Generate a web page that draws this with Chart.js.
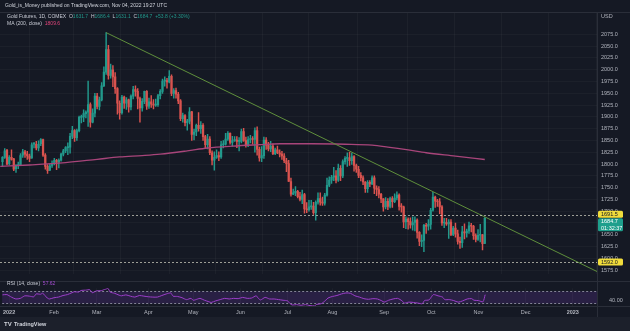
<!DOCTYPE html>
<html>
<head>
<meta charset="utf-8">
<script src="https://cdn.jsdelivr.net/npm/chart.js@4.4.0/dist/chart.umd.min.js"></script>
<style>
  html, body { margin: 0; padding: 0; background: #151924; }
  #wrap { position: relative; width: 630px; height: 331px; overflow: hidden; }
  #priceBox { position: absolute; left: 0; top: 0; width: 630px; height: 281px; }
  #rsiBox { position: absolute; left: 0; top: 281px; width: 630px; height: 50px; }
</style>
</head>
<body>
<div id="wrap">
  <div id="priceBox"><canvas id="priceChart"></canvas></div>
  <div id="rsiBox"><canvas id="rsiChart"></canvas></div>
</div>
<script>
// daily bars, first one is Dec 30 2021 (bar index 0 = Jan 3 2022)
const firstBar = -2;

const opens = [
  1805, 1814,
  1829, 1801, 1814, 1811, 1790, 1797, 1798, 1819, 1826, 1821, 1817, 1813, 1842, 1842, 1834, 1843, 1852, 1819, 1795, 1787,
  1797, 1801, 1808, 1804, 1808, 1821, 1828, 1835, 1836, 1859, 1871, 1856, 1871, 1899, 1900, 1907, 1910, 1926, 1889,
  1908, 1944, 1922, 1936, 1966, 1995, 2043, 1988, 2000, 1985, 1960, 1929, 1909, 1942, 1929, 1936, 1921, 1944, 1958, 1954, 1939, 1919, 1933,
  1954, 1923, 1932, 1927, 1925, 1926, 1945, 1954, 1976, 1977, 1974, 1986, 1950, 1956, 1948, 1934, 1896, 1903, 1888, 1891,
  1911, 1863, 1868, 1882, 1875, 1882, 1858, 1841, 1853, 1824, 1808, 1814, 1818, 1815, 1841, 1842, 1853, 1865, 1846, 1850, 1851,
  1848, 1848, 1869, 1850, 1841, 1852, 1853, 1852, 1871, 1831, 1813, 1818, 1851, 1840, 1832, 1838, 1822, 1830, 1824, 1821, 1817,
  1807, 1801, 1763, 1736, 1739, 1742, 1731, 1725, 1735, 1705, 1703, 1709, 1711, 1697, 1719, 1727, 1719, 1717, 1734, 1755,
  1766, 1772, 1775, 1766, 1791, 1775, 1805, 1812, 1813, 1807, 1816, 1797, 1789, 1776, 1771, 1762, 1748, 1761, 1758, 1771, 1749, 1746, 1736,
  1726, 1709, 1721, 1710, 1727, 1720, 1728, 1734, 1710, 1709, 1677, 1683, 1678, 1671, 1676, 1681, 1655, 1636, 1638, 1670, 1668,
  1672, 1702, 1730, 1721, 1720, 1709, 1675, 1676, 1673, 1677, 1650, 1664, 1652, 1636, 1633, 1656, 1654, 1658, 1669, 1668, 1648,
  1640, 1649, 1650, 1631.7
];
const highs = [
  1816, 1833,
  1831, 1818, 1830, 1812, 1799, 1804, 1822, 1831, 1829, 1827, 1821, 1845, 1846, 1848, 1849, 1854, 1853, 1822, 1799, 1800,
  1807, 1812, 1810, 1811, 1823, 1831, 1837, 1845, 1865, 1880, 1873, 1874, 1902, 1904, 1915, 1913, 1976, 1930, 1917,
  1950, 1950, 1942, 1973, 2006, 2078.8, 2052, 2012, 2009, 1994, 1962, 1934, 1946, 1944, 1941, 1938, 1947, 1965, 1966, 1960, 1942, 1939, 1955,
  1956, 1940, 1945, 1937, 1938, 1948, 1958, 1980, 1985, 1982, 1998, 1989, 1960, 1961, 1952, 1937, 1908, 1905, 1895, 1920,
  1912, 1874, 1885, 1909, 1890, 1886, 1861, 1863, 1858, 1828, 1826, 1830, 1826, 1848, 1850, 1865, 1869, 1866, 1859, 1858, 1858,
  1856, 1874, 1876, 1857, 1858, 1861, 1858, 1877, 1879, 1836, 1837, 1857, 1856, 1846, 1848, 1843, 1834, 1838, 1830, 1827, 1822,
  1812, 1808, 1770, 1747, 1752, 1744, 1740, 1745, 1738, 1718, 1723, 1723, 1719, 1722, 1739, 1739, 1730, 1738, 1770, 1773,
  1776, 1793, 1786, 1800, 1797, 1809, 1816, 1824, 1825, 1823, 1818, 1800, 1795, 1782, 1775, 1763, 1765, 1765, 1775, 1775, 1754, 1752, 1738,
  1727, 1729, 1727, 1730, 1731, 1737, 1741, 1737, 1716, 1711, 1688, 1686, 1686, 1688, 1688, 1684, 1657, 1650, 1672, 1674, 1682,
  1706, 1740, 1732, 1725, 1727, 1712, 1685, 1685, 1682, 1682, 1668, 1675, 1660, 1645, 1668, 1673, 1662, 1677, 1674, 1670, 1652,
  1661, 1672, 1651, 1686.4
];
const lows = [
  1795, 1812,
  1798, 1798, 1808, 1786, 1782, 1790, 1797, 1814, 1814, 1810, 1805, 1812, 1834, 1830, 1828, 1839, 1816, 1789, 1780, 1786,
  1793, 1798, 1788, 1792, 1806, 1817, 1824, 1820, 1823, 1854, 1848, 1850, 1868, 1887, 1890, 1898, 1880, 1878, 1887,
  1900, 1917, 1915, 1934, 1964, 1990, 1980, 1982, 1964, 1950, 1906, 1895, 1906, 1918, 1916, 1910, 1915, 1938, 1944, 1917, 1889, 1912, 1928,
  1916, 1918, 1920, 1917, 1922, 1922, 1938, 1950, 1965, 1961, 1972, 1945, 1940, 1940, 1928, 1892, 1889, 1881, 1872, 1885,
  1850, 1851, 1860, 1870, 1865, 1850, 1835, 1832, 1820, 1798, 1787, 1812, 1807, 1812, 1834, 1840, 1850, 1842, 1838, 1848, 1835,
  1828, 1845, 1848, 1836, 1837, 1845, 1842, 1825, 1819, 1806, 1805, 1812, 1831, 1828, 1826, 1820, 1820, 1822, 1815, 1810, 1803,
  1784, 1763, 1732, 1735, 1733, 1728, 1722, 1716, 1696, 1697, 1700, 1704, 1693, 1681, 1715, 1713, 1712, 1713, 1732, 1752,
  1759, 1765, 1760, 1763, 1765, 1771, 1800, 1795, 1797, 1799, 1785, 1782, 1771, 1764, 1756, 1740, 1740, 1752, 1756, 1737, 1733, 1728, 1718,
  1700, 1705, 1703, 1707, 1708, 1718, 1724, 1702, 1698, 1665, 1663, 1662, 1664, 1660, 1658, 1643, 1627, 1625, 1614, 1653, 1660,
  1662, 1700, 1708, 1710, 1695, 1670, 1665, 1670, 1642, 1648, 1648, 1645, 1630, 1621, 1623, 1641, 1645, 1653, 1656, 1640, 1635,
  1638, 1635, 1618, 1631.1
];
const closes = [
  1814, 1828,
  1800, 1814, 1810, 1789, 1797, 1798, 1818, 1826, 1821, 1817, 1812, 1841, 1842, 1834, 1842, 1852, 1819, 1795, 1786, 1796,
  1801, 1808, 1804, 1808, 1821, 1828, 1835, 1836, 1859, 1871, 1856, 1871, 1899, 1900, 1907, 1910, 1926, 1889, 1908,
  1944, 1922, 1936, 1966, 1995, 2043, 1988, 2000, 1985, 1960, 1929, 1909, 1942, 1929, 1936, 1921, 1944, 1958, 1954, 1939, 1919, 1933, 1954,
  1923, 1932, 1927, 1925, 1926, 1945, 1954, 1976, 1977, 1974, 1986, 1950, 1956, 1948, 1934, 1896, 1903, 1888, 1891, 1911,
  1863, 1868, 1882, 1875, 1882, 1858, 1841, 1853, 1824, 1808, 1814, 1818, 1815, 1841, 1842, 1853, 1865, 1846, 1850, 1851, 1848,
  1848, 1869, 1850, 1841, 1852, 1853, 1852, 1871, 1831, 1813, 1818, 1851, 1840, 1832, 1838, 1822, 1830, 1824, 1821, 1817, 1807,
  1801, 1763, 1736, 1739, 1742, 1731, 1725, 1735, 1705, 1703, 1709, 1711, 1697, 1719, 1727, 1719, 1717, 1734, 1755, 1766,
  1772, 1775, 1766, 1791, 1775, 1805, 1812, 1813, 1807, 1816, 1797, 1789, 1776, 1771, 1762, 1748, 1761, 1758, 1771, 1749, 1746, 1736, 1726,
  1709, 1721, 1710, 1727, 1720, 1728, 1734, 1710, 1709, 1677, 1683, 1678, 1671, 1676, 1681, 1655, 1636, 1638, 1670, 1668, 1672,
  1702, 1730, 1721, 1720, 1709, 1675, 1676, 1673, 1677, 1650, 1664, 1652, 1636, 1633, 1656, 1654, 1658, 1669, 1668, 1648, 1640,
  1649, 1650, 1630.9, 1684.7
];

// time axis: bar index of each month label
const monthTickIdx = [0, 20, 39, 62, 82, 103, 124, 144, 167, 188, 209, 230, 251];
const monthTickLabels = ["2022", "Feb", "Mar", "Apr", "May", "Jun", "Jul", "Aug", "Sep", "Oct", "Nov", "Dec", "2023"];

// MA (200, close)
const maIdx = [-3, 10, 26, 40, 50, 60, 68, 80, 89, 100, 112, 121, 135, 150, 162, 169, 178, 186, 199, 212];
const maVals = [1795, 1798, 1803, 1810, 1815, 1818, 1821, 1828, 1834, 1838, 1841, 1843, 1843, 1842, 1840, 1836, 1830, 1824, 1817, 1809.6];

// RSI (14, close)
const rsiIdx = [-3, -1, 1, 3, 5, 7, 9, 11, 12, 14, 15, 17, 18, 20, 22, 24, 26, 28, 29, 31, 32, 34, 36, 37, 39, 41, 42, 43, 44, 45,
  47, 49, 50, 52, 54, 56, 58, 60, 62, 64, 66, 68, 70, 72, 73, 75, 77, 79, 81, 82, 84, 85, 87, 89, 90, 92, 94, 96, 98, 100,
  102, 104, 106, 108, 110, 111, 112, 114, 116, 118, 120, 122, 124, 125, 126, 128, 130, 132, 134, 136, 137, 139, 141, 142, 144, 146, 148, 150,
  152, 154, 156, 158, 160, 162, 164, 166, 167, 169, 171, 173, 175, 176, 178, 180, 182, 184, 185, 187, 188, 189, 191, 193, 194, 196,
  198, 200, 202, 204, 206, 207, 209, 211, 212];
const rsiVals = [57, 58, 50, 44, 46, 54, 53, 51, 60, 59, 62, 47, 44, 48, 50, 55, 58, 64, 67, 66, 71, 72, 73, 64, 70, 70, 73, 75, 78, 66,
  62, 56, 54, 57, 53, 50, 55, 53, 51, 50, 50, 55, 60, 63, 53, 52, 48, 42, 46, 40, 44, 46, 40, 35, 33, 38, 42, 46, 44, 46,
  45, 49, 46, 47, 54, 46, 41, 49, 44, 44, 42, 40, 38, 30, 25, 26, 24, 26, 23, 22, 27, 29, 40, 47, 52, 55, 60, 63,
  62, 54, 50, 45, 43, 45, 44, 38, 34, 40, 44, 46, 38, 31, 34, 33, 31, 29, 39, 41, 50, 58, 54, 50, 42, 42,
  39, 34, 38, 44, 45, 40, 39, 35, 57.62];

// drawn trend line (Mar 8 high towards the right edge) and horizontal levels
const trendIdx = [44, 262];
const trendVals = [2078.8, 1571.6];
const levelLines = [1691.5, 1592.0];

const UP = "#22998c";
const DOWN = "#d9534f";
const TXT = "#c9ccd6";
const AXIS_TXT = "#b2b5be";
const LINE = "#2a2e39";
const X_MIN = -3.1, X_MAX = 261.8;

Chart.defaults.font.family = "'Liberation Sans', Arial, sans-serif";
Chart.defaults.color = AXIS_TXT;

const candleColor = (c) => (closes[c.dataIndex] >= opens[c.dataIndex] ? UP : DOWN);
const wickData = opens.map((o, i) => ({ x: firstBar + i, y: [lows[i], highs[i]] }));
const bodyData = opens.map((o, i) => ({ x: firstBar + i, y: [o, closes[i]] }));

function drawRuns(ctx, x, y, runs) {
  runs.forEach(([t, c]) => {
    ctx.fillStyle = c;
    ctx.fillText(t, x, y);
    x += ctx.measureText(t).width;
  });
}

function badge(ctx, x, yTop, h, bg, fg, lines) {
  ctx.fillStyle = bg;
  ctx.beginPath();
  ctx.roundRect(x, yTop, 25, h, 1.5);
  ctx.fill();
  ctx.fillStyle = fg;
  ctx.font = "5.5px 'Liberation Sans', Arial, sans-serif";
  ctx.textBaseline = "middle";
  ctx.textAlign = "left";
  const step = h / lines.length;
  lines.forEach((t, k) => ctx.fillText(t, x + 3, yTop + step * (k + 0.5) + 0.3));
}

const monthGrid = {
  type: "linear",
  min: X_MIN,
  max: X_MAX,
  offset: false,
  afterBuildTicks: (s) => { s.ticks = monthTickIdx.map((v) => ({ value: v })); },
  grid: { color: "rgba(255,255,255,0.035)", drawTicks: false },
  border: { display: false },
};

// price pane overlay: header, legend, levels, price badges
const priceOverlay = {
  id: "priceOverlay",
  afterDatasetsDraw(chart) {
    const { ctx, chartArea, scales } = chart;
    ctx.save();
    ctx.strokeStyle = "rgba(215,215,200,0.7)";
    ctx.lineWidth = 1;
    ctx.setLineDash([2, 2]);
    levelLines.forEach((v) => {
      const py = Math.round(scales.y.getPixelForValue(v)) + 0.5;
      ctx.beginPath();
      ctx.moveTo(chartArea.left, py);
      ctx.lineTo(chartArea.right, py);
      ctx.stroke();
    });
    ctx.restore();
  },
  afterDraw(chart) {
    const { ctx, chartArea, scales } = chart;
    const y = scales.y;
    const n = closes.length;
    ctx.save();
    // frame lines
    ctx.strokeStyle = LINE;
    ctx.lineWidth = 1;
    ctx.beginPath();
    ctx.moveTo(0, 12.5); ctx.lineTo(630, 12.5);
    ctx.moveTo(chartArea.right + 0.5, 13); ctx.lineTo(chartArea.right + 0.5, 281);
    ctx.stroke();

    ctx.textBaseline = "middle";
    ctx.textAlign = "left";
    ctx.font = "5px 'Liberation Sans', Arial, sans-serif";
    ctx.fillStyle = "#d1d4dc";
    ctx.fillText("Gold_is_Money published on TradingView.com, Nov 04, 2022 19:27 UTC", 5, 6);

    const chg = closes[n - 1] - closes[n - 2];
    const pct = (chg / closes[n - 2]) * 100;
    drawRuns(ctx, 7, 16.5, [
      ["Gold Futures, 1D, COMEX  ", TXT],
      ["O", TXT], [opens[n - 1].toFixed(1) + "  ", UP],
      ["H", TXT], [highs[n - 1].toFixed(1) + "  ", UP],
      ["L", TXT], [lows[n - 1].toFixed(1) + "  ", UP],
      ["C", TXT], [closes[n - 1].toFixed(1) + "  ", UP],
      ["+" + chg.toFixed(1) + " (+" + pct.toFixed(2) + "%)", UP],
    ]);
    drawRuns(ctx, 7, 23.5, [
      ["MA (200, close)  ", TXT],
      [maVals[maVals.length - 1].toFixed(1), "#e0457b"],
    ]);

    ctx.font = "5.5px 'Liberation Sans', Arial, sans-serif";
    ctx.fillStyle = AXIS_TXT;
    ctx.fillText("USD", 601, 16);

    const bx = chartArea.right + 1;
    badge(ctx, bx, y.getPixelForValue(levelLines[0]) - 4.5, 7, "#f0dc3c", "#131722", [levelLines[0].toFixed(1)]);
    badge(ctx, bx, y.getPixelForValue(levelLines[0]) + 3, 13, "#1e9f8c", "#ffffff", [closes[n - 1].toFixed(1), "01:32:37"]);
    badge(ctx, bx, y.getPixelForValue(levelLines[1]) - 3.5, 7, "#f0dc3c", "#131722", [levelLines[1].toFixed(1)]);
    ctx.restore();
  },
};

new Chart(document.getElementById("priceChart"), {
  type: "bar",
  data: {
    datasets: [
      {
        type: "line",
        data: trendIdx.map((x, i) => ({ x, y: trendVals[i] })),
        borderColor: "#5f8f3c",
        borderWidth: 1,
        pointRadius: 0,
        order: 0,
      },
      {
        type: "line",
        data: maIdx.map((x, i) => ({ x, y: maVals[i] })),
        borderColor: "#a8457a",
        borderWidth: 1.3,
        pointRadius: 0,
        cubicInterpolationMode: "monotone",
        order: 1,
      },
      { data: bodyData, backgroundColor: candleColor, barThickness: 1.6, minBarLength: 1, grouped: false, order: 2 },
      { data: wickData, backgroundColor: candleColor, barThickness: 0.8, grouped: false, order: 3 },
    ],
  },
  options: {
    animation: false,
    responsive: true,
    maintainAspectRatio: false,
    events: [],
    layout: { padding: { top: 13, left: 0, right: 0, bottom: 0 } },
    plugins: { legend: { display: false }, tooltip: { enabled: false } },
    scales: {
      x: Object.assign({}, monthGrid, { ticks: { display: false } }),
      y: {
        position: "right",
        min: 1567.4,
        max: 2120.4,
        afterFit: (s) => { s.width = 33; },
        afterBuildTicks: (s) => {
          s.ticks = s.ticks.filter((t) => t.value % 25 === 0 && t.value <= 2075);
        },
        ticks: {
          stepSize: 25,
          includeBounds: false,
          padding: 4,
          color: AXIS_TXT,
          font: { size: 5.5 },
          callback: (v) => Number(v).toFixed(1),
        },
        grid: { color: "rgba(255,255,255,0.03)", drawTicks: false },
        border: { display: false },
      },
    },
  },
  plugins: [priceOverlay],
});

// rsi pane overlay: band, label, separators, footer
const rsiOverlay = {
  id: "rsiOverlay",
  beforeDatasetsDraw(chart) {
    const { ctx, chartArea, scales } = chart;
    const y70 = Math.round(scales.y.getPixelForValue(70)) + 0.5;
    const y30 = Math.round(scales.y.getPixelForValue(30)) + 0.5;
    ctx.save();
    ctx.fillStyle = "rgba(126,60,200,0.2)";
    ctx.fillRect(chartArea.left, y70, chartArea.right - chartArea.left, y30 - y70);
    ctx.strokeStyle = "rgba(200,200,215,0.6)";
    ctx.lineWidth = 1;
    ctx.setLineDash([2, 2]);
    [y70, y30].forEach((py) => {
      ctx.beginPath();
      ctx.moveTo(chartArea.left, py);
      ctx.lineTo(chartArea.right, py);
      ctx.stroke();
    });
    ctx.restore();
  },
  afterDraw(chart) {
    const { ctx, chartArea } = chart;
    ctx.save();
    ctx.strokeStyle = LINE;
    ctx.lineWidth = 1;
    ctx.beginPath();
    ctx.moveTo(0, 0.5); ctx.lineTo(630, 0.5);
    ctx.moveTo(0, chartArea.bottom + 0.5); ctx.lineTo(630, chartArea.bottom + 0.5);
    ctx.moveTo(chartArea.right + 0.5, 0); ctx.lineTo(chartArea.right + 0.5, 36);
    ctx.stroke();

    ctx.textBaseline = "middle";
    ctx.textAlign = "left";
    ctx.font = "5px 'Liberation Sans', Arial, sans-serif";
    drawRuns(ctx, 7, 3, [
      ["RSI (14, close)  ", TXT],
      [rsiVals[rsiVals.length - 1].toFixed(2), "#a24bcf"],
    ]);

    // footer strip
    ctx.fillStyle = "#1c202b";
    ctx.fillRect(0, 36, 630, 14);
    ctx.fillStyle = "#d1d4dc";
    ctx.font = "bold 6px 'Liberation Sans', Arial, sans-serif";
    ctx.fillText("TV", 4, 43.5);
    ctx.font = "bold 5.5px 'Liberation Sans', Arial, sans-serif";
    ctx.fillText("TradingView", 14, 43.5);
    ctx.restore();
  },
};

new Chart(document.getElementById("rsiChart"), {
  type: "line",
  data: {
    datasets: [
      {
        data: rsiIdx.map((x, i) => ({ x, y: rsiVals[i] })),
        borderColor: "#9c3fc9",
        borderWidth: 1,
        pointRadius: 0,
        tension: 0.25,
      },
    ],
  },
  options: {
    animation: false,
    responsive: true,
    maintainAspectRatio: false,
    events: [],
    layout: { padding: { top: 0, left: 0, right: 0, bottom: 14 } },
    plugins: { legend: { display: false }, tooltip: { enabled: false } },
    scales: {
      x: Object.assign({}, monthGrid, {
        afterFit: (s) => { s.height = 11; },
        ticks: {
          autoSkip: false,
          maxRotation: 0,
          padding: 3,
          color: AXIS_TXT,
          font: (c) => ({ size: 5.5, weight: /^20/.test(monthTickLabels[c.index] || "") ? "bold" : "normal" }),
          callback: (v, i) => monthTickLabels[i],
        },
      }),
      y: {
        position: "right",
        min: 21.7,
        max: 77.9,
        afterFit: (s) => { s.width = 33; },
        afterBuildTicks: (s) => { s.ticks = [{ value: 40 }]; },
        ticks: { padding: 4, color: AXIS_TXT, font: { size: 5.5 }, callback: (v) => Number(v).toFixed(2) },
        grid: { display: false },
        border: { display: false },
      },
    },
  },
  plugins: [rsiOverlay],
});
</script>
</body>
</html>
